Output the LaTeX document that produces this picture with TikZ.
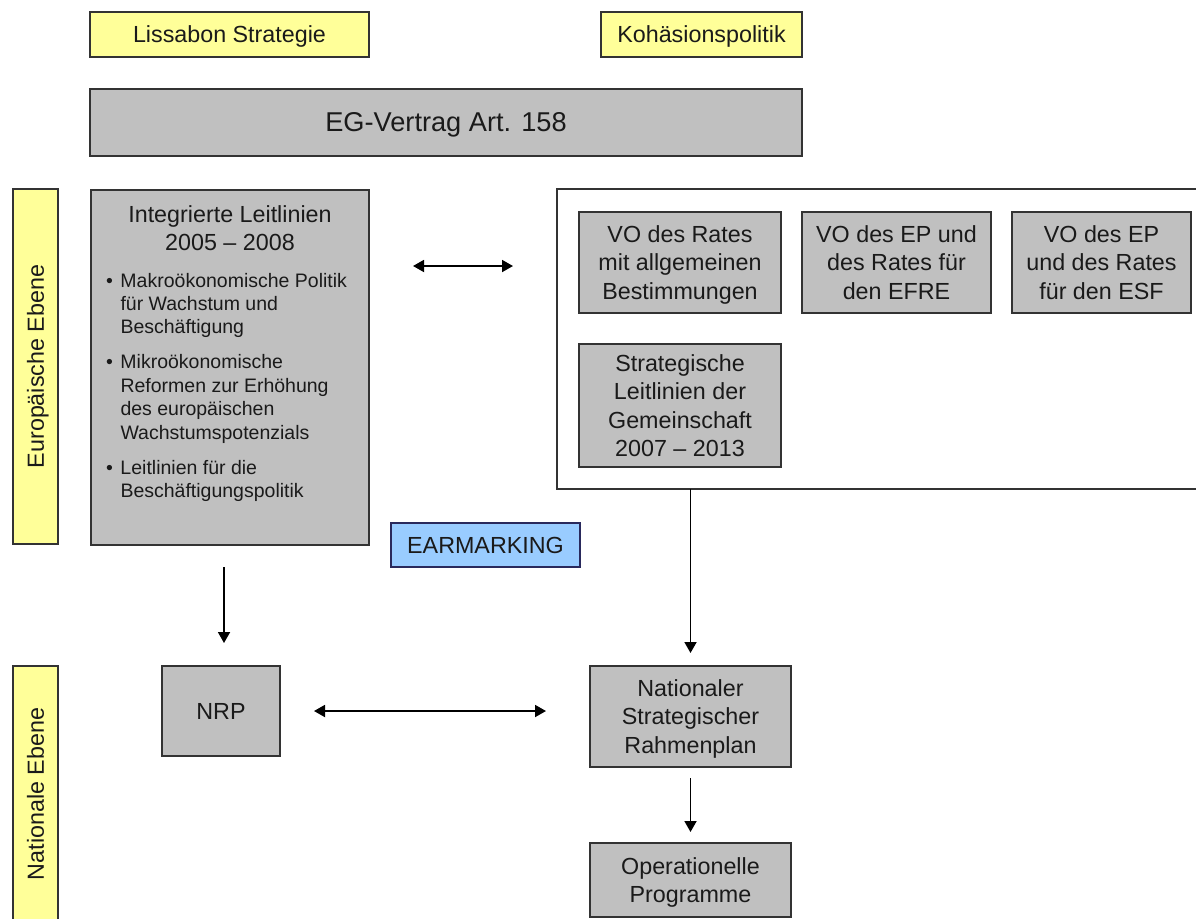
\documentclass[tikz,border=0pt]{standalone}
\usepackage{fontspec}
\setmainfont{Liberation Sans}
\usetikzlibrary{arrows.meta}
\definecolor{boxgray}{HTML}{C0C0C0}
\definecolor{boxyellow}{HTML}{FFFF99}
\definecolor{boxblue}{HTML}{99CCFF}
\definecolor{edge}{HTML}{333333}
\definecolor{ink}{HTML}{1A1A1A}
\newcommand\lastln[1]{\smash{#1}}
\begin{document}
\begin{tikzpicture}[x=1pt,y=-1pt,
  base/.style={draw=edge, line width=1.3pt, inner sep=0pt, outer sep=0pt, text=ink, align=center, font=\fontsize{23.3}{28.4}\selectfont},
  graybox/.style={base, fill=boxgray},
  yellowbox/.style={base, fill=boxyellow},
  bluebox/.style={base, fill=boxblue, draw=edge!80!blue},
  oneline/.style={text depth=0pt},
  plain/.style={inner sep=0pt, outer sep=0pt, text=ink},
  arr/.style={line width=1.8pt, draw=black, -{Triangle[length=11pt,width=12pt]}},
  darr/.style={line width=1.8pt, draw=black, {Triangle[length=11pt,width=12pt]}-{Triangle[length=11pt,width=12pt]}},
]
\useasboundingbox (0,0) rectangle (1196,918);
\clip (0,0) rectangle (1196,918);
\fill[white] (0,0) rectangle (1196,918);

% top row
\node[yellowbox, oneline, minimum width=279pt, minimum height=45pt] (lis) at (229.5,34.5) {Lissabon Strategie};
\node[yellowbox, oneline, minimum width=201pt, minimum height=45pt] (koh) at (701.5,34.5) {Kohäsionspolitik};
\node[graybox, oneline, minimum width=712pt, minimum height=67pt, font=\fontsize{27.2}{32}\selectfont] (eg) at (446,122.5) {EG-Vertrag Art. 158};

% level bars
\node[yellowbox, oneline, rotate=90, minimum width=355pt, minimum height=45pt] (eur) at (35.5,366.5) {Europäische Ebene};
\node[yellowbox, oneline, rotate=90, minimum width=256pt, minimum height=45pt] (nat) at (35.5,794) {Nationale Ebene};

% integrated guidelines
\node[graybox, minimum width=278pt, minimum height=355pt] (il) at (230,367.5) {};
\node[plain, align=center, font=\fontsize{23.3}{28}\selectfont] (ilh) at (230,228) {Integrierte Leitlinien\\2005 – 2008};
\node[plain, anchor=north west, align=left, font=\fontsize{19.5}{23.4}\selectfont] (ilb) at (106,273)
 {\makebox[14.5pt][l]{•}Makroökonomische Politik\\
  \hspace*{14.5pt}für Wachstum und\\
  \hspace*{14.5pt}Beschäftigung\\[11.6pt]
  \makebox[14.5pt][l]{•}Mikroökonomische\\
  \hspace*{14.5pt}Reformen zur Erhöhung\\
  \hspace*{14.5pt}des europäischen\\
  \hspace*{14.5pt}Wachstumspotenzials\\[11.6pt]
  \makebox[14.5pt][l]{•}Leitlinien für die\\
  \hspace*{14.5pt}Beschäftigungspolitik};

% cohesion container
\node[draw=edge, line width=1.3pt, fill=white, inner sep=0pt, outer sep=0pt, minimum width=660pt, minimum height=300pt] (cbox) at (887,339) {};
\node[graybox, minimum width=202pt, minimum height=101pt] (vo1) at (680,262.5) {VO des Rates\\mit allgemeinen\\\lastln{Bestimmungen}};
\node[graybox, minimum width=189pt, minimum height=101pt] (vo2) at (896.5,262.5) {VO des EP und\\des Rates für\\\lastln{den EFRE}};
\node[graybox, minimum width=179pt, minimum height=101pt] (vo3) at (1101.5,262.5) {VO des EP\\und des Rates\\\lastln{für den ESF}};
\node[graybox, minimum width=202pt, minimum height=123pt] (slg) at (680,405.5) {Strategische\\Leitlinien der\\Gemeinschaft\\\lastln{2007 – 2013}};

% earmarking
\node[bluebox, oneline, minimum width=189pt, minimum height=44pt] (ear) at (485.5,545) {EARMARKING};

% national level
\node[graybox, oneline, minimum width=118pt, minimum height=90pt] (nrp) at (221,711) {NRP};
\node[graybox, minimum width=201pt, minimum height=101pt] (nsr) at (690.5,716.5) {Nationaler\\Strategischer\\\lastln{Rahmenplan}};
\node[graybox, minimum width=201pt, minimum height=74pt] (op) at (690.5,880) {Operationelle\\\lastln{Programme}};

% connectors
\coordinate (ax) at (224,0);
\coordinate (dy) at (0,266);
\draw[darr, shorten <=44pt, shorten >=44pt] (il.east |- dy) -- (cbox.west |- dy);
\draw[arr, shorten <=22pt, shorten >=23pt] (il.south -| ax) -- (nrp.north -| ax);
\draw[arr, shorten >=13pt] (cbox.south -| nsr.north) -- (nsr.north);
\draw[darr, shorten <=34pt, shorten >=44pt] (nrp.east) -- (nsr.west |- nrp.east);
\draw[arr, shorten <=11pt, shorten >=11pt] (nsr.south) -- (op.north);
\end{tikzpicture}
\end{document}
